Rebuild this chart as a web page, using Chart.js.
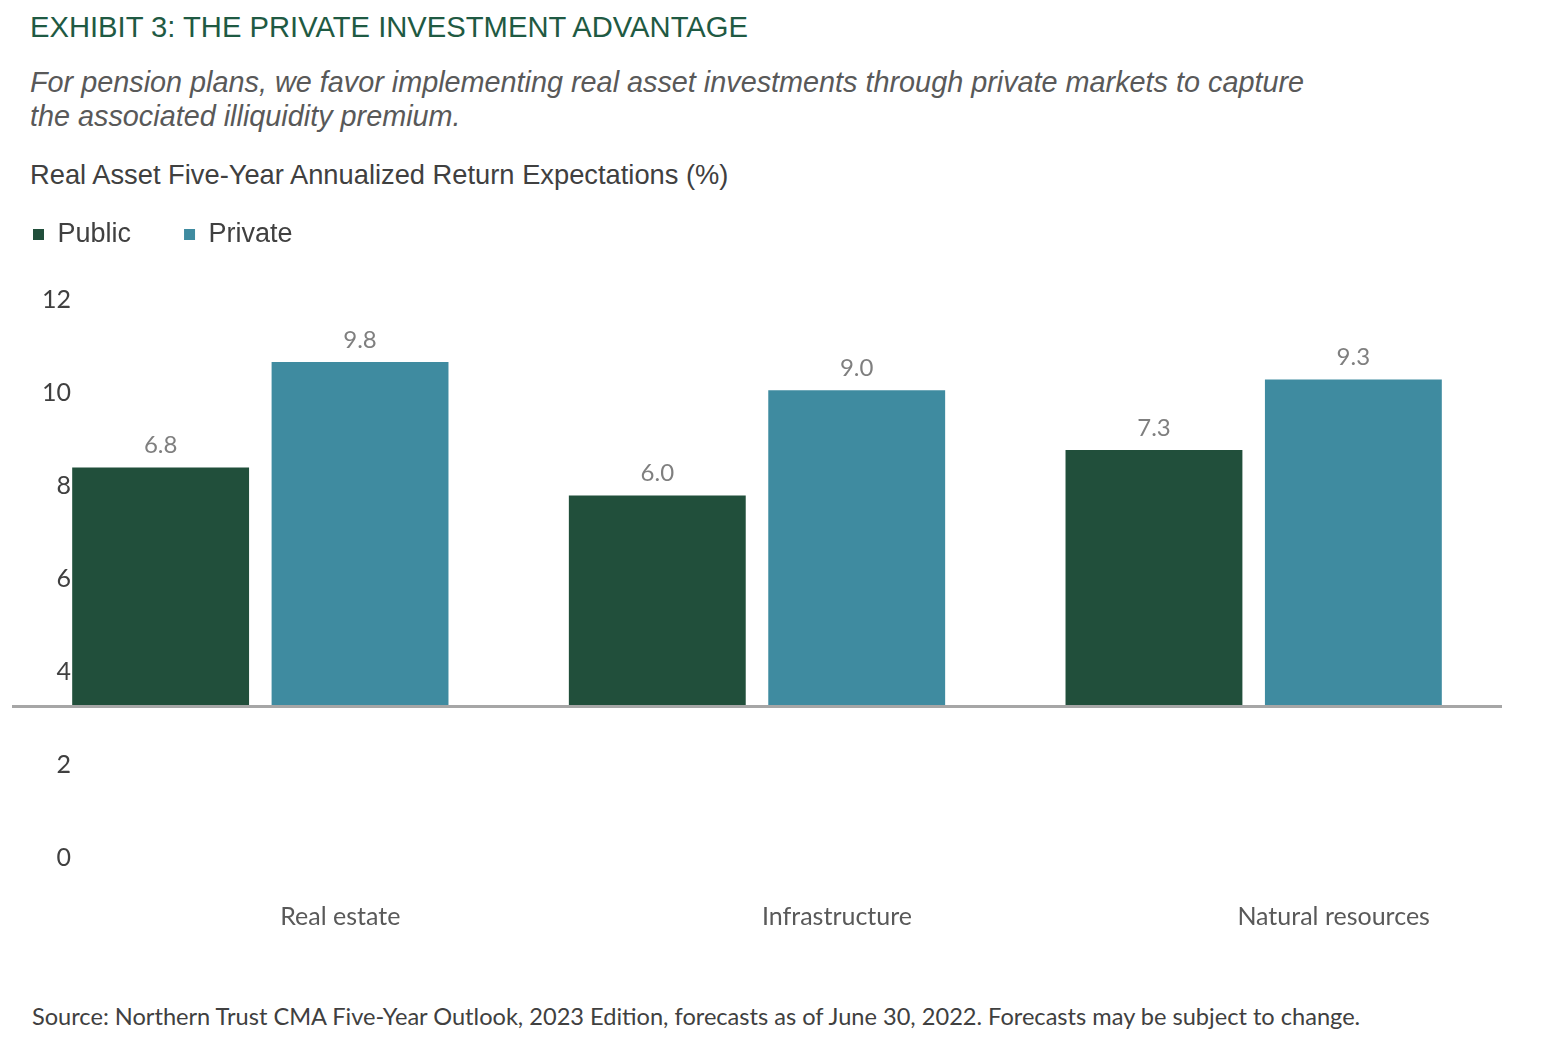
<!DOCTYPE html>
<html>
<head>
<meta charset="utf-8">
<script src="https://cdn.jsdelivr.net/npm/chart.js@4"></script>
<style>
  html, body { margin: 0; padding: 0; background: #fff; }
  body { width: 1558px; height: 1056px; position: relative; overflow: hidden; font-family: 'Liberation Sans', Arial, sans-serif; }
  .title { position: absolute; left: 30px; top: 11px; font-size: 29.2px; line-height: 32px; color: #1f5a43; white-space: nowrap; }
  .subtitle { position: absolute; left: 30px; top: 65px; font-size: 28.8px; line-height: 34px; color: #595959; font-style: italic; white-space: nowrap; }
  .charttitle { position: absolute; left: 30px; top: 160px; font-size: 27.3px; line-height: 30px; color: #404040; white-space: nowrap; }
  .source { position: absolute; left: 32px; top: 1003px; font-family: Lato, sans-serif; font-size: 23.6px; line-height: 26px; color: #404040; white-space: nowrap; }
  #wrap { position: absolute; left: 0; top: 168px; width: 1558px; height: 790px; }
</style>
</head>
<body>
<div class="title">EXHIBIT 3: THE PRIVATE INVESTMENT ADVANTAGE</div>
<div class="subtitle">For pension plans, we favor implementing real asset investments through private markets to capture<br>the associated illiquidity premium.</div>
<div class="charttitle">Real Asset Five-Year Annualized Return Expectations (%)</div>
<div id="wrap"><canvas id="chart"></canvas></div>
<div class="source">Source: Northern Trust CMA Five-Year Outlook, 2023 Edition, forecasts as of June 30, 2022. Forecasts may be subject to change.</div>

<script>
// 데이터
const categories = ['Real estate', 'Infrastructure', 'Natural resources'];
const publicValues = [6.8, 6.0, 7.3];
const privateValues = [9.8, 9.0, 9.3];
const axisTicks = [0, 2, 4, 6, 8, 10, 12];

// 막대 위 값 표시
const valueLabels = {
    id: 'valueLabels',
    afterDatasetsDraw(chart) {
        const ctx = chart.ctx;
        ctx.save();
        ctx.font = '24px Lato, sans-serif';
        ctx.fillStyle = '#7f7f7f';
        ctx.textAlign = 'center';
        ctx.textBaseline = 'middle';
        chart.data.datasets.forEach((ds, i) => {
            chart.getDatasetMeta(i).data.forEach((bar, j) => {
                ctx.fillText(ds.data[j].toFixed(1), bar.x, bar.y - 22);
            });
        });
        ctx.restore();
    }
};

// 범례 아래 여백
const legendMargin = {
    id: 'legendMargin',
    beforeInit(chart) {
        const fit = chart.legend.fit;
        chart.legend.fit = function () {
            fit.bind(chart.legend)();
            this.height += 42;
        };
    }
};

const ctx = document.getElementById('chart').getContext('2d');
new Chart(ctx, {
    type: 'bar',
    data: {
        labels: categories,
        datasets: [
            {
                label: 'Public',
                data: publicValues,
                backgroundColor: '#214f3b',
                borderWidth: 0,
                categoryPercentage: 0.803,
                barPercentage: 0.887
            },
            {
                label: 'Private',
                data: privateValues,
                backgroundColor: '#3f8ba0',
                borderWidth: 0,
                categoryPercentage: 0.803,
                barPercentage: 0.887
            }
        ]
    },
    plugins: [valueLabels, legendMargin],
    options: {
        responsive: true,
        maintainAspectRatio: false,
        animation: false,
        layout: { padding: { left: -20, right: 56, top: 0, bottom: 0 } },
        plugins: {
            legend: {
                position: 'top',
                align: 'start',
                labels: {
                    boxWidth: 11,
                    boxHeight: 11,
                    padding: 53,
                    color: '#404040',
                    font: { family: "'Liberation Sans', Arial, sans-serif", size: 27 }
                }
            },
            tooltip: { enabled: false }
        },
        scales: {
            x: {
                grid: { display: false, drawTicks: false },
                border: { display: false },
                ticks: {
                    labelOffset: 80,
                    padding: 44,
                    color: '#595959',
                    font: { family: 'Lato, sans-serif', size: 25 }
                },
                afterFit(scale) { scale.height = 100; }
            },
            y: {
                position: 'left',
                min: -4.31,
                max: 11.565,
                ticks: { display: false },
                border: { display: false },
                grid: { drawTicks: false, color: '#a6a6a6', lineWidth: 3 },
                afterBuildTicks(scale) { scale.ticks = [{ value: 0 }]; },
                afterFit(scale) { scale.width = 0; }
            },
            yLabels: {
                type: 'linear',
                position: 'left',
                min: axisTicks[0],
                max: axisTicks[axisTicks.length - 1],
                grid: { display: false, drawTicks: false },
                border: { display: false },
                ticks: {
                    stepSize: 2,
                    mirror: true,
                    crossAlign: 'far',
                    padding: 30,
                    color: '#404040',
                    font: { family: 'Lato, sans-serif', size: 25 }
                },
                afterBuildTicks(scale) { scale.ticks = axisTicks.map(v => ({ value: v })); },
                afterFit(scale) { scale.width = 32; }
            }
        }
    }
});
</script>
</body>
</html>
